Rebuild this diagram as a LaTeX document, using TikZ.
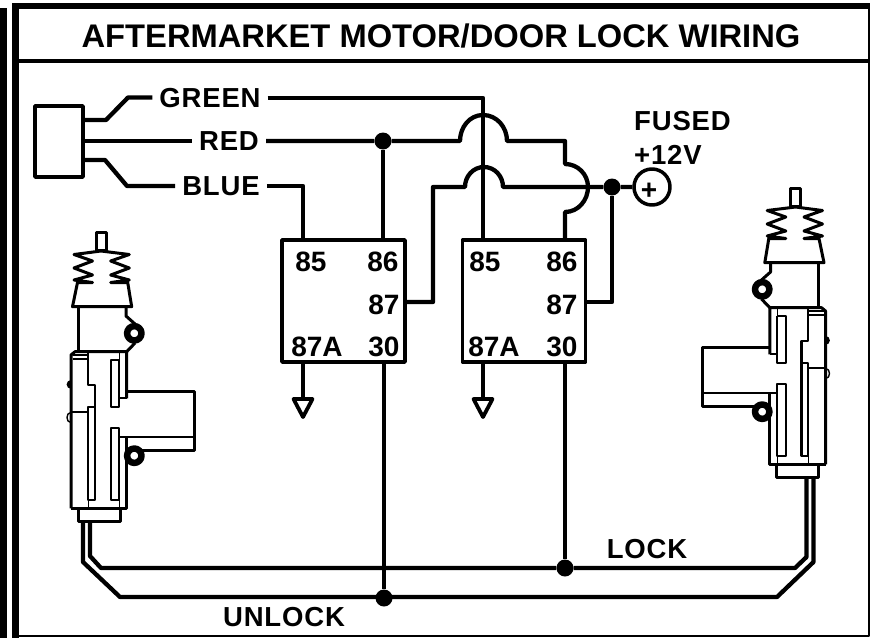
\documentclass[tikz,border=0pt]{standalone}
\usepackage{fontspec}
\setmainfont{Liberation Sans}
\newfontfamily\wirefont[LetterSpace=3]{Liberation Sans}
\usetikzlibrary{calc}

\newcommand{\lockmotor}[1]{%
    \draw[motorline] (96,250) -- (96,232) -- (106,232) -- (106,250);
    \draw[line width=3pt] (95,250.5) -- (108,250.5);
    \draw[motorline] (101,251) -- (74,254.5) -- (92.5,261) -- (74,268) -- (92.5,275) -- (74,280) -- (92.5,282.5)
        -- (77.5,282.5) -- (72.5,306.7) -- (131.7,306.7) -- (127.7,282.5) -- (110.7,282.5)
        -- (129.3,280) -- (110.7,275) -- (129.3,268) -- (110.7,261) -- (129.3,254.5) -- (101,251);
    \draw[motorline] (78.3,306.7) -- (78.3,351.7);
    \draw[motorline] (126,306.7) -- (126,316) -- (135,324);
    \draw[motorline] (135,343) -- (126.7,351.7);
    \draw[motorline] (71,508.3) -- (71,355) -- (75,351.7) -- (126.7,351.7) -- (126.7,398.3);
    \draw[motorline] (126.7,391.7) -- (194,391.7) -- (194,450) -- (126.7,450);
    \draw[motorline] (126.7,436.7) -- (126.7,508.3) -- (71,508.3);
    \draw[innerline] (119.3,436.7) -- (194,436.7);
    \draw[innerline] (119.3,398.3) -- (126.7,398.3);
    \draw[innerline] (88.3,351.7) -- (88.3,385) -- (95,385) -- (95,500) -- (88.3,500) -- (88.3,406.7) -- (95,406.7);
    \draw[innerline] (71,411.7) -- (88.3,411.7);
    \draw[thinline] (88.3,500) -- (88.3,508.3);
    \draw[thinline] (73,355) -- (88.3,355);
    \draw[innerline] (73,359.3) -- (88.3,359.3);
    \draw[thinline] (119.3,351.7) -- (119.3,360);
    \draw[innerline] (119.3,360) -- (110.7,360) -- (110.7,406.7) -- (119.3,406.7) -- (119.3,398.3);
    \draw[innerline] (119.3,360) -- (119.3,398.3);
    \draw[innerline] (110.7,428.3) rectangle (119.3,500);
    \draw[thinline] (119.3,500) -- (119.3,508.3);
    \draw[motorline] (78.3,508.3) -- (78.3,521.7) -- (120,521.7) -- (120,508.3);
    \fill (71,380) arc[start angle=90,end angle=270,radius=4.4pt];
    \draw[thinline] (71,412.5) -- (68,414) -- (67,417.5) -- (68,421) -- (71,422.5);
    \draw[ringline,fill=white] (134.3,333.3) circle[radius=7.2pt];
    \draw[ringline,fill=white] (134.3,455.7) circle[radius=7.2pt];
    \coordinate (#1lock) at (90,521.7);
    \coordinate (#1unlock) at (83,521.7);
}

\begin{document}
\begin{tikzpicture}[x=1pt,y=-1pt,line join=round,
        wire/.style={line width=4.3pt},
        motorline/.style={line width=3pt},
        innerline/.style={line width=2.2pt},
        thinline/.style={line width=1.4pt},
        ringline/.style={line width=6.5pt},
        relaybox/.style={draw,line width=3.4pt,minimum width=123pt,minimum height=122pt,inner sep=0pt},
        wirelabel/.style={font=\wirefont\bfseries\fontsize{27.5}{29}\selectfont,inner xsep=7pt,inner ysep=0pt},
        pinlabel/.style={font=\bfseries\fontsize{28}{30}\selectfont,inner sep=0pt},
        junction/.style={circle,fill=black,minimum size=17pt,inner sep=0pt},
        ground/.style={line width=3.8pt}]
    \useasboundingbox (0,0) rectangle (871,638);
    \fill (0,8) rectangle (7,638);
    \fill (12,3) rectangle (870,9);
    \fill (12,3) rectangle (19,638);
    \draw[line width=2pt] (869,9) -- (869,636) -- (19,636);
    \draw[line width=4pt] (19,61) -- (868,61);
    \node[font=\bfseries\fontsize{32.7}{34}\selectfont,inner sep=0pt] (title) at (441,36) {AFTERMARKET MOTOR/DOOR LOCK WIRING};

    \lockmotor{L}
    \begin{scope}[xshift=896.5pt,yshift=44pt,xscale=-1]
        \lockmotor{R}
    \end{scope}

    \node[draw,line width=3.4pt,minimum width=48pt,minimum height=71pt,inner sep=0pt] (plug) at (59,141.5) {};
    \node[wirelabel] (labGreen) at (210,98) {GREEN};
    \node[wirelabel] (labRed) at (229,141) {RED};
    \node[wirelabel] (labBlue) at (221,186) {BLUE};
    \node[wirelabel,anchor=west,inner xsep=0pt] (labFused) at (634,121) {FUSED};
    \node[wirelabel,anchor=west,inner xsep=0pt] (labVolt) at (634,155) {+12V};
    \node[wirelabel] (labLock) at (647,549) {LOCK};
    \node[wirelabel] (labUnlock) at (284,617) {UNLOCK};

    \node[relaybox] (relayA) at (343.5,301) {};
    \node[relaybox] (relayB) at (524,301) {};
    \node[pinlabel] (pinAa) at (311,262) {85};
    \node[pinlabel] (pinAb) at (383,262) {86};
    \node[pinlabel] (pinAc) at (384,305) {87};
    \node[pinlabel] (pinAd) at (317,347) {87A};
    \node[pinlabel] (pinAe) at (384,347) {30};
    \node[pinlabel] (pinBa) at (485,262) {85};
    \node[pinlabel] (pinBb) at (562,262) {86};
    \node[pinlabel] (pinBc) at (562,305) {87};
    \node[pinlabel] (pinBd) at (494,347) {87A};
    \node[pinlabel] (pinBe) at (562,347) {30};

    \node[junction] (dotRed) at (383,141) {};
    \node[junction] (dotFuse) at (612,187) {};
    \node[junction] (dotLock) at (565,568) {};
    \node[junction] (dotUnlock) at (384,598) {};
    \node[draw,circle,line width=3.5pt,minimum size=36pt,inner sep=0pt] (fuse) at (652,187) {};
    \node[font=\bfseries\fontsize{28}{30}\selectfont,inner sep=0pt] (plus) at (649,191) {+};

    \draw[wire] (83,120) -- (106,120) -- (128,97.5) -- (labGreen.west |- 0,97.5);
    \draw[wire] (83,141) -- (labRed.west);
    \draw[wire] (83,160) -- (105,160) -- (127,186) -- (labBlue.west);
    \draw[wire] (labGreen.east) -| (483,240);
    \draw[wire] (labBlue.east) -| (303,240);
    \draw[wire] (labRed.east) -- (dotRed) -- (460,141)
        to[out=90,in=180] (483,115) to[out=0,in=90] (507,141)
        -- (565,141) -- (565,164) to[out=0,in=90] (588,187) to[out=-90,in=0] (565,212) -- (565,240);
    \draw[wire] (dotRed) -- (383,240);
    \draw[wire] (405,302) -| (433,187) -- (465,187)
        to[out=90,in=180] (484,167) to[out=0,in=90] (503,187) -- (dotFuse) -- (fuse);
    \draw[wire] (dotFuse) |- (585,302);
    \draw[wire] (303,362) -- (303,399);
    \draw[wire] (483,362) -- (483,399);
    \draw[ground] (293.5,399) -- (312.5,399) -- (303,417) -- cycle;
    \draw[ground] (473.5,399) -- (492.5,399) -- (483,417) -- cycle;
    \draw[wire] (384,362) -- (dotUnlock);
    \draw[wire] (565,362) -- (dotLock);
    \draw[wire] (Llock) -- (90,556) -- (101,568) -- (dotLock) -- (795,568) -- (806.5,557) -- (Rlock);
    \draw[wire] (Lunlock) -- (83,562) -- (120,597) -- (777,597) -- (813.5,562) -- (Runlock);
\end{tikzpicture}
\end{document}
